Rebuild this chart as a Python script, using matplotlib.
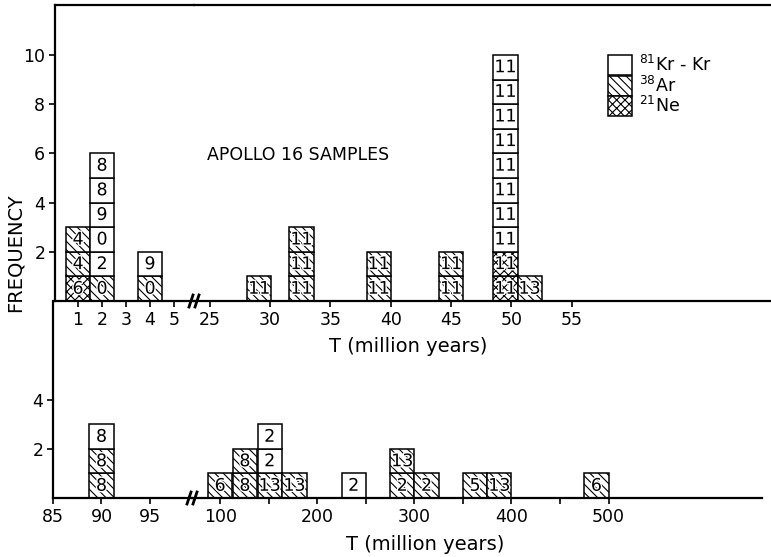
import matplotlib
matplotlib.use("Agg")
import matplotlib.pyplot as plt
import matplotlib.patheffects as pe
from matplotlib.patches import Patch
from matplotlib.lines import Line2D

W, H = 771, 557
DPI = 100

TICK_FS = 12.5
CELL_FS = 12.5
LABEL_FS = 14

plt.rcParams['font.family'] = ['DejaVu Sans']
plt.rcParams['hatch.linewidth'] = 0.8

# cell fill for each method
HATCH = {"Kr": "", "Ar": "\\\\\\\\", "Ne": "xxxx"}

# upper panel, T = 1..5 My (1 My bins)
up_a_T = [1, 2, 4]
up_a_method = [["Ne", "Ar", "Ar"],
               ["Ar", "Kr", "Kr", "Kr", "Kr", "Kr"],
               ["Ar", "Kr"]]
up_a_ref = [["6", "4", "4"],
            ["0", "2", "0", "9", "8", "8"],
            ["0", "9"]]

# upper panel, T = 25..55 My (2 My bins)
up_b_T = [29.1, 32.6, 39, 45, 49.5, 51.5]
up_b_method = [["Ar"],
               ["Ar", "Ar", "Ar"],
               ["Ar", "Ar"],
               ["Ar", "Ar"],
               ["Ne", "Ne", "Kr", "Kr", "Kr", "Kr", "Kr", "Kr", "Kr", "Kr"],
               ["Ar"]]
up_b_ref = [["11"],
            ["11", "11", "11"],
            ["11", "11"],
            ["11", "11"],
            ["11", "11", "11", "11", "11", "11", "11", "11", "11", "11"],
            ["13"]]

# lower panel, T = 85..95 My
low_a_T = [90]
low_a_method = [["Ar", "Ar", "Kr"]]
low_a_ref = [["8", "8", "8"]]

# lower panel, T = 100..500 My (25 My bins)
low_b_T = [100, 125.5, 151, 176.5, 237.5, 287.5, 312.5, 362.5, 387.5, 487.5]
low_b_method = [["Ar"], ["Ar", "Ar"], ["Ar", "Kr", "Kr"], ["Ar"], ["Kr"],
                ["Ar", "Ar"], ["Ar"], ["Ar"], ["Ar"], ["Ar"]]
low_b_ref = [["6"], ["8", "8"], ["13", "2", "2"], ["13"], ["2"],
             ["2", "13"], ["2"], ["5"], ["13"], ["6"]]

legend_method = ["Kr", "Ar", "Ne"]
legend_label = [r"$^{81}$Kr - Kr", r"$^{38}$Ar", r"$^{21}$Ne"]


def px_axes(fig, x0, x1, y_top, y_bot):
    # axes box given in image pixels
    return fig.add_axes([x0 / W, 1 - y_bot / H, (x1 - x0) / W, (y_bot - y_top) / H])


def stack(ax, T, methods, refs, width):
    for t, ms, rs in zip(T, methods, refs):
        for k, (m, r) in enumerate(zip(ms, rs)):
            ax.bar(t, 1, width=width, bottom=k, color="white", edgecolor="black",
                   hatch=HATCH[m], linewidth=1.1, zorder=2)
            ax.text(t, k + 0.5, r, ha="center", va="center", fontsize=CELL_FS, zorder=3,
                    path_effects=[pe.withStroke(linewidth=2, foreground="white")])


def style(ax, left=False, top=False):
    for s in ["left", "right", "top", "bottom"]:
        ax.spines[s].set_visible(False)
    ax.spines["bottom"].set_visible(True)
    ax.spines["bottom"].set_linewidth(1.6)
    if left:
        ax.spines["left"].set_visible(True)
        ax.spines["left"].set_linewidth(1.6)
    if top:
        ax.spines["top"].set_visible(True)
        ax.spines["top"].set_linewidth(1.6)
    ax.tick_params(direction="out", length=4, width=1.2, labelsize=TICK_FS, pad=3)
    ax.tick_params(axis="y", left=left, labelleft=left)
    ax.patch.set_visible(False)


def break_mark(fig, x, y):
    for dx in (-3, 3):
        fig.add_artist(Line2D([(x + dx - 2) / W, (x + dx + 2) / W],
                              [1 - (y + 6) / H, 1 - (y - 6) / H],
                              transform=fig.transFigure, color="black", lw=2))


fig = plt.figure(figsize=(W / DPI, H / DPI), dpi=DPI)

# upper panel
ax1 = px_axes(fig, 55, 194, 5, 301)
ax2 = px_axes(fig, 194, 771, 5, 301)
ax1.set_xlim(0.04, 5.83)
ax2.set_xlim(23.7, 71.5)
for ax in (ax1, ax2):
    ax.set_ylim(0, 12.03)
stack(ax1, up_a_T, up_a_method, up_a_ref, 1.0)
stack(ax2, up_b_T, up_b_method, up_b_ref, 2.0)
style(ax1, left=True, top=True)
style(ax2, top=True)
ax1.set_xticks([1, 2, 3, 4, 5])
ax2.set_xticks([25, 30, 35, 40, 45, 50, 55])
ax1.set_yticks([2, 4, 6, 8, 10])

# lower panel
ax3 = px_axes(fig, 53, 192, 301, 498)
ax4 = px_axes(fig, 192, 762, 301, 498)
ax3.set_xlim(85, 99.33)
ax4.set_xlim(71, 658)
for ax in (ax3, ax4):
    ax.set_ylim(0, 8.04)
stack(ax3, low_a_T, low_a_method, low_a_ref, 2.6)
stack(ax4, low_b_T, low_b_method, low_b_ref, 25)
style(ax3, left=True)
style(ax4)
ax3.set_xticks([85, 90, 95])
ax4.set_xticks([100, 200, 300, 400, 500])
ax4.set_xticks([150, 250, 350, 450], minor=True)
ax4.tick_params(which="minor", direction="out", length=4, width=1.2)
ax3.set_yticks([2, 4])

break_mark(fig, 194, 301)
break_mark(fig, 192, 498)

fig.text(15 / W, 1 - 253 / H, "FREQUENCY", rotation=90, ha="center", va="center",
         fontsize=LABEL_FS)
fig.text(408 / W, 1 - 347 / H, "T (million years)", ha="center", va="center",
         fontsize=LABEL_FS)
fig.text(425 / W, 1 - 545 / H, "T (million years)", ha="center", va="center",
         fontsize=LABEL_FS)
fig.text(207 / W, 1 - 155 / H, "APOLLO 16 SAMPLES", ha="left", va="center",
         fontsize=12.5)

handles = [Patch(facecolor="white", edgecolor="black", hatch=HATCH[m], linewidth=1.1)
           for m in legend_method]
fs_px = 12.5 * DPI / 72
fig.legend(handles, legend_label, loc="upper left",
           bbox_to_anchor=(608 / W, 1 - 55 / H), frameon=False, fontsize=12.5,
           borderpad=0, borderaxespad=0, labelspacing=0, handletextpad=0.4,
           handlelength=24 / fs_px, handleheight=24.5 / fs_px)

fig.savefig("out.png", dpi=DPI)
